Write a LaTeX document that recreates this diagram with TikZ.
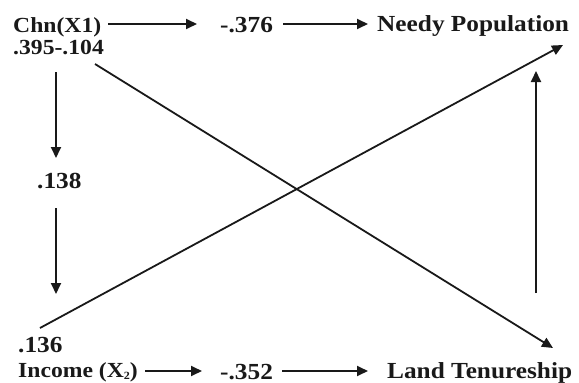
\documentclass[tikz,border=0pt]{standalone}
\usepackage{fontspec}
\setmainfont{Liberation Serif}[FakeStretch=1.1]
\usetikzlibrary{arrows.meta}
\begin{document}
\begin{tikzpicture}[x=1pt,y=-1pt,
  lbl/.style={font=\fontsize{23}{25}\selectfont\bfseries, inner sep=0pt, anchor=base west, text=black!90},
  sml/.style={lbl, font=\fontsize{21.5}{25}\selectfont\bfseries},
  arr/.style={line width=1.8pt, draw=black!90, -{Triangle[length=11pt,width=10pt]}}]
\useasboundingbox (0,0) rectangle (579,383);
% labels
\node[sml] (chn) at (13,32) {Chn(X1)};
\node[sml] (c395) at (13,54) {.395-.104};
\node[lbl] (c376) at (220,32) {-.376};
\node[lbl] (np) at (377,31) {Needy Population};
\node[lbl] (c138) at (37,188) {.138};
\node[lbl] (c136) at (18,352) {.136};
\node[sml] (inc) at (18,377) {Income (X\raisebox{-2pt}{\fontsize{11}{12}\selectfont 2})};
\node[lbl] (c352) at (220,379) {-.352};
\node[lbl] (lt) at (387,378) {Land Tenureship};
% connector endpoints
\coordinate (a1) at (108,24);  \coordinate (a2) at (197,24);
\coordinate (b1) at (283,24);  \coordinate (b2) at (368,24);
\coordinate (d1) at (145,371); \coordinate (d2) at (202,371);
\coordinate (e1) at (282,371); \coordinate (e2) at (368,371);
\coordinate (v1) at (56,72);   \coordinate (v2) at (56,158);
\coordinate (v3) at (56,208);  \coordinate (v4) at (56,294);
\coordinate (r1) at (536,293); \coordinate (r2) at (536,71);
\coordinate (x1) at (95,64);   \coordinate (x2) at (553,348);
\coordinate (y1) at (40,328);  \coordinate (y2) at (563,45);
% connectors
\draw[arr] (a1) -- (a2);
\draw[arr] (b1) -- (b2);
\draw[arr] (d1) -- (d2);
\draw[arr] (e1) -- (e2);
\draw[arr] (v1) -- (v2);
\draw[arr] (v3) -- (v4);
\draw[arr] (r1) -- (r2);
\draw[arr] (x1) -- (x2);
\draw[arr] (y1) -- (y2);
\end{tikzpicture}
\end{document}
